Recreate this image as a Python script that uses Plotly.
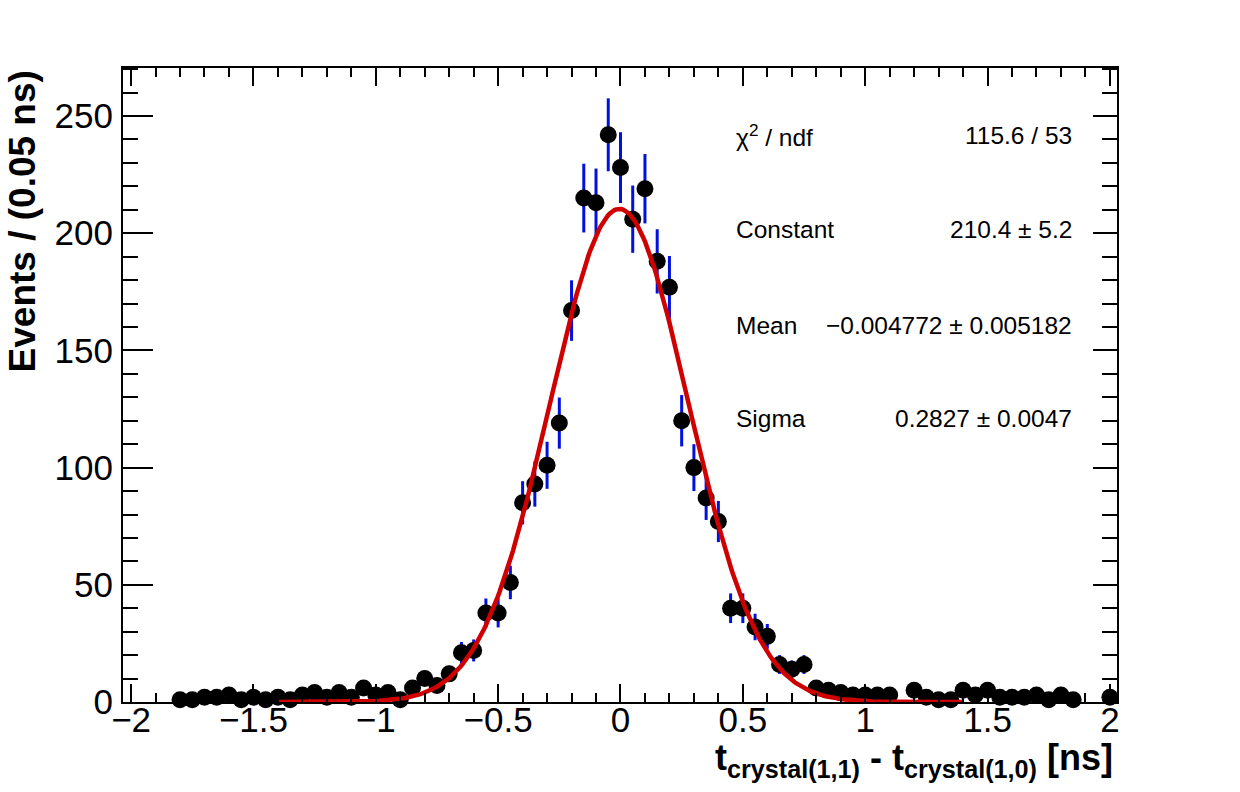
import numpy as np
import plotly.graph_objects as go

# ---- data ----
x_vals = [-1.80, -1.75, -1.70, -1.65, -1.60, -1.55, -1.50, -1.45, -1.40, -1.35,
          -1.30, -1.25, -1.20, -1.15, -1.10, -1.05, -1.00, -0.95, -0.90, -0.85,
          -0.80, -0.75, -0.70, -0.65, -0.60, -0.55, -0.50, -0.45, -0.40, -0.35,
          -0.30, -0.25, -0.20, -0.15, -0.10, -0.05, 0.00, 0.05, 0.10, 0.15,
          0.20, 0.25, 0.30, 0.35, 0.40, 0.45, 0.50, 0.55, 0.60, 0.65,
          0.70, 0.75, 0.80, 0.85, 0.90, 0.95, 1.00, 1.05, 1.10, 1.20,
          1.25, 1.30, 1.35, 1.40, 1.45, 1.50, 1.55, 1.60, 1.65, 1.70,
          1.75, 1.80, 1.85, 2.00]
counts = [1, 1, 2, 2, 3, 1, 2, 1, 2, 1,
          3, 4, 2, 4, 2, 6, 3, 4, 1, 6,
          10, 7, 12, 21, 22, 38, 38, 51, 85, 93,
          101, 119, 167, 215, 213, 242, 228, 206, 219, 188,
          177, 120, 100, 87, 77, 40, 40, 32, 28, 16,
          14, 16, 6, 5, 4, 3, 3, 3, 3, 5,
          2, 1, 1, 5, 3, 5, 2, 2, 2, 3,
          1, 3, 1, 2]

# Gaussian fit parameters (from the stats box)
fit_constant = 210.4
fit_mean = -0.004772
fit_sigma = 0.2827
fit_range = [-1.4, 1.4]

stats_labels = ["χ<sup>2</sup> / ndf", "Constant", "Mean", "Sigma"]
stats_values = ["115.6 / 53", "210.4 ± 5.2", "−0.004772 ± 0.005182", "0.2827 ± 0.0047"]

x_range = [-2.033, 2.029]
y_range = [0, 270.5]

errors = np.sqrt(np.array(counts, dtype=float))
fx = np.linspace(fit_range[0], fit_range[1], 400)
fy = fit_constant * np.exp(-0.5 * ((fx - fit_mean) / fit_sigma) ** 2)

FONT = "Liberation Sans, Arial, Helvetica, sans-serif"

fig = go.Figure()
fig.add_trace(go.Scatter(
    x=x_vals, y=counts, mode="markers",
    marker=dict(color="black", size=17, line=dict(width=0)),
    error_y=dict(type="data", array=errors, color="#0010dd", thickness=3, width=0),
    showlegend=False, cliponaxis=False,
))
fig.add_trace(go.Scatter(
    x=fx, y=fy, mode="lines",
    line=dict(color="#d00000", width=4.5),
    showlegend=False,
))

axis_common = dict(showgrid=False, zeroline=False, showline=True, linecolor="black",
                   linewidth=2, ticks="inside", tickcolor="black", tickwidth=1.5)

fig.update_layout(
    width=1240, height=792,
    margin=dict(l=123, r=123, t=68, b=90),
    paper_bgcolor="white", plot_bgcolor="white",
    font=dict(family=FONT, color="black"),
    xaxis=dict(**axis_common, range=x_range, tick0=0, dtick=0.5, ticklen=18,
               minor=dict(dtick=0.1, tick0=0, ticklen=9, ticks="inside",
                          tickcolor="black", tickwidth=1.5, showgrid=False),
               tickfont=dict(size=35, family=FONT), ticklabelstandoff=-14),
    xaxis2=dict(**axis_common, range=x_range, overlaying="x", side="top",
                tick0=0, dtick=0.5, ticklen=18, showticklabels=False,
                minor=dict(dtick=0.1, tick0=0, ticklen=9, ticks="inside",
                           tickcolor="black", tickwidth=1.5, showgrid=False)),
    yaxis=dict(**axis_common, range=y_range, tick0=0, dtick=50, ticklen=30,
               minor=dict(dtick=10, tick0=0, ticklen=15, ticks="inside",
                          tickcolor="black", tickwidth=1.5, showgrid=False),
               tickfont=dict(size=35, family=FONT), ticklabelstandoff=1),
    yaxis2=dict(**axis_common, range=y_range, overlaying="y", side="right",
                tick0=0, dtick=50, ticklen=24, showticklabels=False,
                minor=dict(dtick=10, tick0=0, ticklen=15, ticks="inside",
                           tickcolor="black", tickwidth=1.5, showgrid=False)),
)

# invisible trace so the mirror axes render
fig.add_trace(go.Scatter(x=[x_range[0]], y=[0], xaxis="x2", yaxis="y2",
                         mode="markers", marker=dict(opacity=0), showlegend=False,
                         hoverinfo="skip"))

# stats box text
stat_y = [0.8943, 0.7445, 0.5946, 0.4479]
for lab, val, yy in zip(stats_labels, stats_values, stat_y):
    fig.add_annotation(x=0.6147, y=yy, xref="paper", yref="paper", text=lab,
                       showarrow=False, xanchor="left", yanchor="middle",
                       font=dict(size=24.5, family=FONT, color="black"))
    fig.add_annotation(x=0.9567, y=yy, xref="paper", yref="paper", text=val,
                       showarrow=False, xanchor="right", yanchor="middle",
                       font=dict(size=24.5, family=FONT, color="black"))

# axis titles (ROOT style placement)
fig.add_annotation(x=-0.1016, y=0.758, xref="paper", yref="paper",
                   text="<b>Events / (0.05 ns)</b>", textangle=-90, showarrow=False,
                   xanchor="center", yanchor="middle",
                   font=dict(size=37, family=FONT, color="black"))
fig.add_annotation(x=0.998, y=-0.092, xref="paper", yref="paper",
                   text="<b>t<sub>crystal(1,1)</sub> - t<sub>crystal(1,0)</sub> [ns]</b>",
                   showarrow=False, xanchor="right", yanchor="middle",
                   font=dict(size=36, family=FONT, color="black"))

fig.write_html("out.html")
